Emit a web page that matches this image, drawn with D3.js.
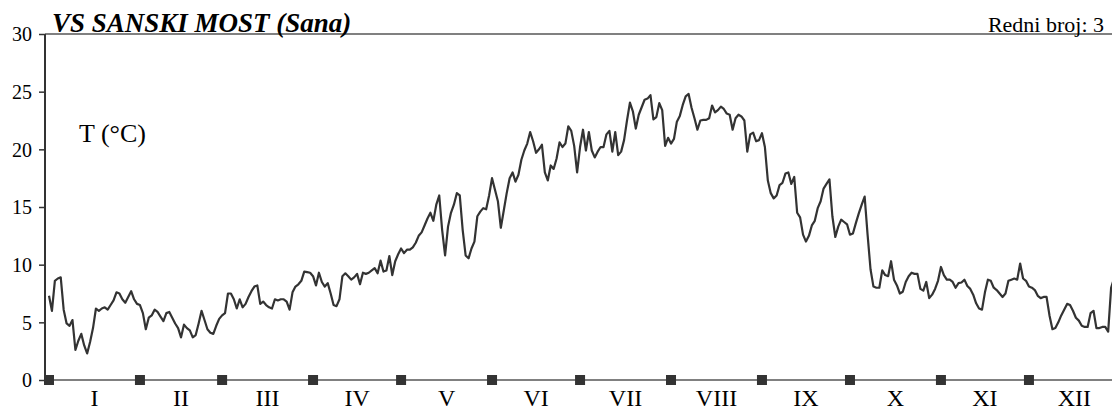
<!DOCTYPE html>
<html>
<head>
<meta charset="utf-8">
<script src="https://cdn.jsdelivr.net/npm/d3@7"></script>
<style>
  html, body { margin: 0; padding: 0; background: #fff; }
  svg { display: block; }
</style>
</head>
<body>
<div id="chart"></div>
<script>
const title = "VS SANSKI MOST (Sana)";
const serialLabel = "Redni broj: 3";
const unitLabel = "T (°C)";
const monthLabels = ["I","II","III","IV","V","VI","VII","VIII","IX","X","XI","XII"];
const monthStarts = [0,31,59,90,120,151,181,212,243,273,304,334,365];
const yTicks = [0,5,10,15,20,25,30];
const temps = [
  7.3,6.0,8.6,8.8,8.9,6.1,4.9,4.7,5.2,2.6,
  3.4,4.0,3.0,2.3,3.3,4.5,6.2,6.0,6.2,6.3,
  6.1,6.5,6.9,7.6,7.5,7.0,6.7,7.2,7.7,7.0,
  6.6,6.5,5.8,4.4,5.4,5.6,6.1,5.9,5.5,5.1,
  5.8,5.9,5.4,4.9,4.5,3.7,4.8,4.5,4.3,3.7,
  3.9,4.9,6.0,5.2,4.4,4.1,4.0,4.7,5.3,5.6,
  5.8,7.5,7.5,7.0,6.2,7.0,6.3,6.6,7.2,7.7,
  8.1,8.2,6.6,6.8,6.5,6.3,6.2,7.0,6.9,7.0,
  7.0,6.8,6.1,7.6,8.1,8.3,8.6,9.4,9.35,9.3,
  9.0,8.2,9.3,8.5,8.1,8.4,7.5,6.5,6.4,7.0,
  9.0,9.25,9.0,8.7,8.9,9.2,8.3,9.3,9.2,9.3,
  9.5,9.7,9.25,10.35,9.4,9.5,10.75,9.1,10.3,10.9,
  11.4,11.0,11.3,11.3,11.5,11.9,12.5,12.8,13.4,14.0,
  14.5,13.8,15.2,16.0,13.0,10.8,13.3,14.5,15.2,16.2,
  16.0,13.0,10.8,10.55,11.4,12.0,14.2,14.6,14.9,14.8,
  16.0,17.5,16.5,15.5,13.2,14.7,16.2,17.5,18.0,17.2,
  17.8,19.1,19.9,20.5,21.5,20.7,19.7,20.0,20.4,18.0,
  17.3,18.6,18.3,19.2,20.6,20.2,20.5,22.0,21.6,20.3,
  18.0,20.2,21.7,19.9,21.5,19.9,19.3,19.8,20.2,20.2,
  21.3,21.6,19.8,21.5,19.5,19.8,20.8,22.5,24.05,23.3,
  21.8,23.0,23.65,24.3,24.4,24.7,22.6,22.8,24.0,23.4,
  20.3,21.0,20.5,20.9,22.4,22.9,23.85,24.6,24.8,23.6,
  22.7,21.7,22.5,22.55,22.55,22.7,23.8,23.2,23.4,23.7,
  23.5,23.1,23.0,21.7,22.7,23.0,22.85,22.5,19.8,21.3,
  21.45,20.7,20.8,21.4,20.2,17.3,16.2,15.75,16.0,16.9,
  17.1,17.9,18.0,17.0,17.6,14.5,14.1,12.6,12.0,12.5,
  13.4,13.8,14.9,15.5,16.6,17.0,17.4,14.2,12.4,13.3,
  13.9,13.7,13.5,12.6,12.7,13.6,14.45,15.2,15.9,12.6,
  9.6,8.1,8.0,8.0,9.5,9.1,9.0,10.3,8.7,8.2,
  7.5,7.65,8.5,9.0,9.3,9.2,9.2,7.9,7.75,8.5,
  7.1,7.4,7.9,8.6,9.8,9.1,8.7,8.7,8.5,8.0,
  8.4,8.45,8.7,8.15,7.9,7.4,6.65,6.2,6.1,7.6,
  8.7,8.6,8.0,7.8,7.5,7.2,7.5,8.6,8.7,8.8,
  8.7,10.1,8.8,8.6,8.1,8.0,7.8,7.3,7.1,7.2,
  7.2,5.6,4.4,4.5,5.0,5.6,6.1,6.6,6.5,6.0,
  5.4,5.15,4.7,4.6,4.6,5.8,6.0,4.5,4.5,4.6,
  4.6,4.2,8.0,8.8,8.4
];

const FONT = "'Liberation Serif', Tinos, 'Times New Roman', Times, 'DejaVu Serif', serif";
const W = 1112, H = 412;
const axisX = 45;
const svg = d3.select("#chart").append("svg").attr("width", W).attr("height", H)
  .attr("font-family", FONT);

const x = d3.scaleLinear().domain([0, 365]).range([49, 49 + 365 * 2.934]);
const y = d3.scaleLinear().domain([0, 30]).range([380, 34]);

// top frame line
svg.append("line").attr("x1", axisX).attr("x2", W).attr("y1", y(30)).attr("y2", y(30))
  .attr("stroke", "#808080").attr("stroke-width", 2);

// y axis
const yAxis = d3.axisLeft(y).tickValues(yTicks).tickSize(6).tickPadding(7).tickFormat(d3.format("d"));
const gy = svg.append("g").attr("transform", `translate(${axisX},0)`).call(yAxis)
  .attr("font-family", FONT).attr("font-size", 20);
gy.select(".domain").attr("stroke", "#333").attr("stroke-width", 2).attr("d", `M0,${y(30)}V${y(0)}`);
gy.selectAll(".tick line").attr("stroke", "#333").attr("stroke-width", 1.5);
gy.selectAll(".tick text").attr("fill", "#000").attr("dy", "0.34em")
  .attr("font-family", FONT).attr("font-size", 20);

// bottom axis line
svg.append("line").attr("x1", axisX).attr("x2", W).attr("y1", y(0)).attr("y2", y(0))
  .attr("stroke", "#808080").attr("stroke-width", 2);

// data line
const line = d3.line().x((d, i) => x(i)).y(d => y(d));
svg.append("path").datum(temps).attr("d", line)
  .attr("fill", "none").attr("stroke", "#333").attr("stroke-width", 2.2).attr("stroke-linejoin", "round");

// month markers
svg.selectAll("rect.mk").data(monthStarts.slice(0, 12)).enter().append("rect")
  .attr("class", "mk")
  .attr("x", d => x(d) - 5).attr("y", y(0) - 5).attr("width", 10).attr("height", 10)
  .attr("fill", "#333");

// month labels
svg.selectAll("text.mon").data(monthLabels).enter().append("text")
  .attr("class", "mon")
  .attr("x", (d, i) => x((monthStarts[i] + monthStarts[i + 1]) / 2))
  .attr("y", 406)
  .attr("text-anchor", "middle")
  .attr("font-family", FONT).attr("font-size", 24)
  .text(d => d);

// title
svg.append("text").attr("x", 52).attr("y", 32)
  .attr("font-family", FONT).attr("font-size", 27).attr("font-weight", "bold").attr("font-style", "italic")
  .text(title);

svg.append("text").attr("x", 1104).attr("y", 32).attr("text-anchor", "end")
  .attr("font-family", FONT).attr("font-size", 22).text(serialLabel);

svg.append("text").attr("x", 79).attr("y", 142)
  .attr("font-family", FONT).attr("font-size", 26).text(unitLabel);
</script>
</body>
</html>
